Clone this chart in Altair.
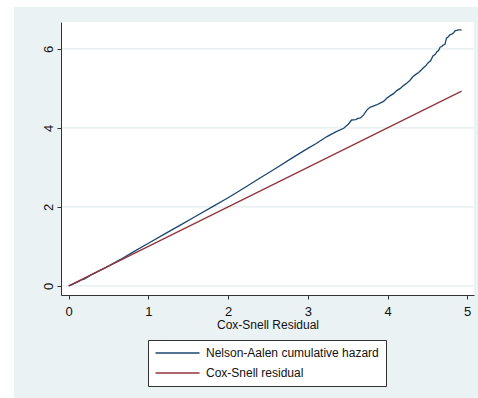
import altair as alt
import pandas as pd

# Nelson-Aalen cumulative hazard of the Cox-Snell residuals
na_x = [0.00, 0.04, 0.08, 0.12, 0.16, 0.20, 0.24, 0.28,
        0.35, 0.45, 0.55, 0.65, 0.80,
        1.00, 1.20, 1.40, 1.60, 1.80,
        2.00, 2.20, 2.40, 2.60, 2.82,
        3.00, 3.10, 3.24, 3.35, 3.45,
        3.51, 3.55, 3.60, 3.63, 3.66,
        3.70, 3.74, 3.78, 3.82, 3.86,
        3.90, 3.95, 3.99, 4.03, 4.07,
        4.12, 4.16, 4.20, 4.24, 4.28,
        4.32, 4.36, 4.39, 4.42, 4.45,
        4.48, 4.51, 4.54, 4.57, 4.60,
        4.62, 4.64, 4.66, 4.68, 4.70,
        4.72, 4.74, 4.76, 4.78, 4.81,
        4.83, 4.85, 4.87, 4.89, 4.93]
na_y = [0.00, 0.03, 0.07, 0.11, 0.15, 0.18, 0.23, 0.28,
        0.35, 0.45, 0.56, 0.67, 0.85,
        1.08, 1.31, 1.54, 1.77, 2.00,
        2.23, 2.48, 2.73, 2.98, 3.26,
        3.48, 3.60, 3.78, 3.90, 3.99,
        4.10, 4.20, 4.21, 4.24, 4.25,
        4.33, 4.45, 4.52, 4.55, 4.58,
        4.62, 4.67, 4.75, 4.81, 4.86,
        4.95, 5.00, 5.07, 5.13, 5.20,
        5.30, 5.36, 5.40, 5.46, 5.52,
        5.57, 5.65, 5.70, 5.82, 5.86,
        5.93, 5.96, 6.04, 6.06, 6.10,
        6.11, 6.27, 6.30, 6.35, 6.38,
        6.41, 6.46, 6.47, 6.48, 6.48]

# 45-degree reference line: residual against itself
cs_x = [0.00, 4.93]
cs_y = [0.00, 4.93]

x_ticks = [0, 1, 2, 3, 4, 5]
y_ticks = [0, 2, 4, 6]
series_names = ["Nelson-Aalen cumulative hazard", "Cox-Snell residual"]
series_colors = ["#1a476f", "#90353b"]

W, H = 413, 273
FONT = "'Liberation Sans', Arial, sans-serif"
BG = "#eaf2f3"

rows = []
for i, (x, y) in enumerate(zip(na_x, na_y)):
    rows.append({"series": series_names[0], "x": x, "y": y, "i": i})
for i, (x, y) in enumerate(zip(cs_x, cs_y)):
    rows.append({"series": series_names[1], "x": x, "y": y, "i": i})
lines_df = pd.DataFrame(rows)

one = pd.DataFrame({"k": [0]})

# graph region (light blue-gray) and white plot region
graph_bg = alt.Chart(one).mark_rect(color=BG).encode(
    x=alt.value(-47), x2=alt.value(417), y=alt.value(-15), y2=alt.value(376)
)
plot_bg = alt.Chart(one).mark_rect(color="white").encode(
    x=alt.value(0), x2=alt.value(W), y=alt.value(0), y2=alt.value(H)
)

x_scale = alt.Scale(domain=[-0.097, 5.085], nice=False, zero=False)
y_scale = alt.Scale(domain=[-0.23, 6.68], nice=False, zero=False)

x_axis = alt.Axis(values=x_ticks, title="Cox-Snell Residual", grid=False,
                  tickSize=4, labelPadding=6, titlePadding=1,
                  labelFontSize=13, titleFontSize=12,
                  titleFontWeight="normal", zindex=1)
y_axis = alt.Axis(values=y_ticks, title=None, grid=False,
                  tickSize=4, labelPadding=2, labelAngle=270,
                  labelAlign="center", labelBaseline="bottom",
                  labelFontSize=13, zindex=1)

grid = alt.Chart(pd.DataFrame({"g": y_ticks})).mark_rule(
    color="#e3ecee", strokeWidth=1.3
).encode(
    y=alt.Y("g:Q", scale=y_scale, axis=y_axis),
    x=alt.value(0), x2=alt.value(W),
)

# a wide horizontal stroke used as the legend key
key_path = "M-4,0H4"

lines = alt.Chart(lines_df).mark_line(strokeWidth=1.3).encode(
    x=alt.X("x:Q", scale=x_scale, axis=x_axis),
    y=alt.Y("y:Q", scale=y_scale, axis=y_axis),
    color=alt.Color("series:N",
                    scale=alt.Scale(domain=series_names, range=series_colors),
                    legend=alt.Legend(title=None, orient="none",
                                      legendX=87, legendY=318,
                                      fillColor="white", strokeColor="#333333",
                                      padding=6.5, symbolType=key_path,
                                      symbolSize=121, symbolStrokeWidth=1.3,
                                      symbolOffset=16.5, labelOffset=22,
                                      labelFontSize=12, labelLimit=400,
                                      rowPadding=7, zindex=1)),
    order="i:Q",
)

chart = alt.layer(graph_bg, plot_bg, grid, lines).properties(
    width=W, height=H,
    autosize=alt.AutoSizeParams(type="none"),
    padding={"left": 61, "top": 22, "right": 4, "bottom": 103},
    background="white",
).configure_view(stroke=None).configure_axis(
    domainColor="#333333", tickColor="#333333", labelColor="#111111",
    titleColor="#111111", labelFont=FONT, titleFont=FONT,
).configure_legend(labelFont=FONT, labelColor="#111111")

chart.save("out.html", embed_options={"renderer": "svg", "actions": False})
